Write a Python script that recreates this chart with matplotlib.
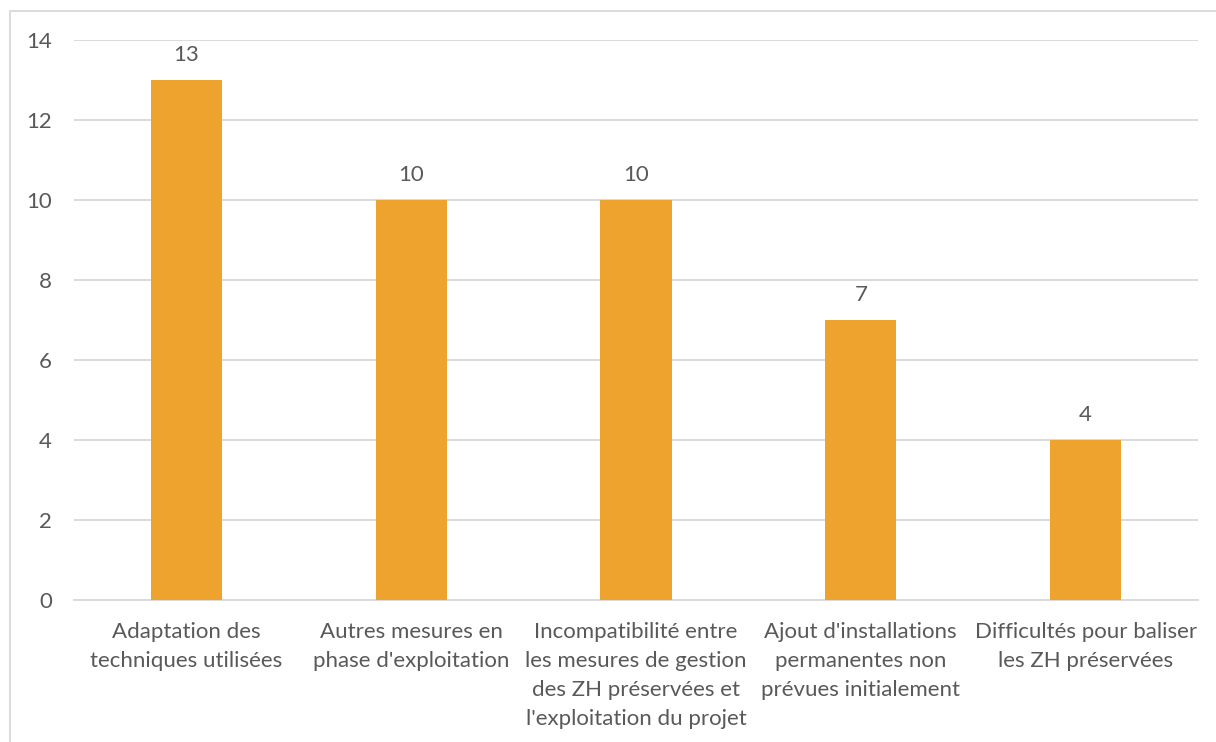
import matplotlib
matplotlib.use("Agg")
from matplotlib import pyplot as plt
from matplotlib.patches import Rectangle

categories = ["Adaptation des\ntechniques utilisées",
              "Autres mesures en\nphase d'exploitation",
              "Incompatibilité entre\nles mesures de gestion\ndes ZH préservées et\nl'exploitation du projet",
              "Ajout d'installations\npermanentes non\nprévues initialement",
              "Difficultés pour baliser\nles ZH préservées"]
values = [13, 10, 10, 7, 4]
yticks = [0, 2, 4, 6, 8, 10, 12, 14]

bar_color = "#EFA32F"
text_color = "#595959"
grid_color = "#D9D9D9"

plt.rcParams["font.family"] = ["Lato", "DejaVu Sans"]

W, H = 1216, 742
fig = plt.figure(figsize=(W / 100, H / 100), dpi=100)
ax = fig.add_axes([74 / W, 1 - 600 / H, 1124 / W, 560 / H])

x = list(range(len(categories)))
bars = ax.bar(x, values, width=0.316, color=bar_color, zorder=3)

ax.set_xlim(-0.5, len(categories) - 0.5)
ax.set_ylim(0, 14)
ax.set_yticks(yticks)
ax.yaxis.grid(True, color=grid_color, linewidth=1.3, zorder=0)
ax.set_axisbelow(True)
for s in ["top", "right", "left"]:
    ax.spines[s].set_visible(False)
ax.spines["bottom"].set_color(grid_color)
ax.spines["bottom"].set_linewidth(1.3)

fs = 16
ax.set_xticks(x)
ax.set_xticklabels(categories, fontsize=fs, color=text_color, linespacing=1.56)
ax.tick_params(axis="x", length=0, pad=16)
ax.tick_params(axis="y", length=0, pad=16, labelsize=fs, labelcolor=text_color)

for b, v in zip(bars, values):
    ax.annotate(str(v), (b.get_x() + b.get_width() / 2, v), xytext=(0, 18),
                textcoords="offset points", ha="center", va="center",
                fontsize=fs, color=text_color)

# frame around the chart area
fig.patches.append(Rectangle((10 / W, -0.1), 1.2, (1 - 11 / H) + 0.1,
                             transform=fig.transFigure, fill=False,
                             edgecolor=grid_color, linewidth=1.3))

fig.savefig("out.png", dpi=100)
